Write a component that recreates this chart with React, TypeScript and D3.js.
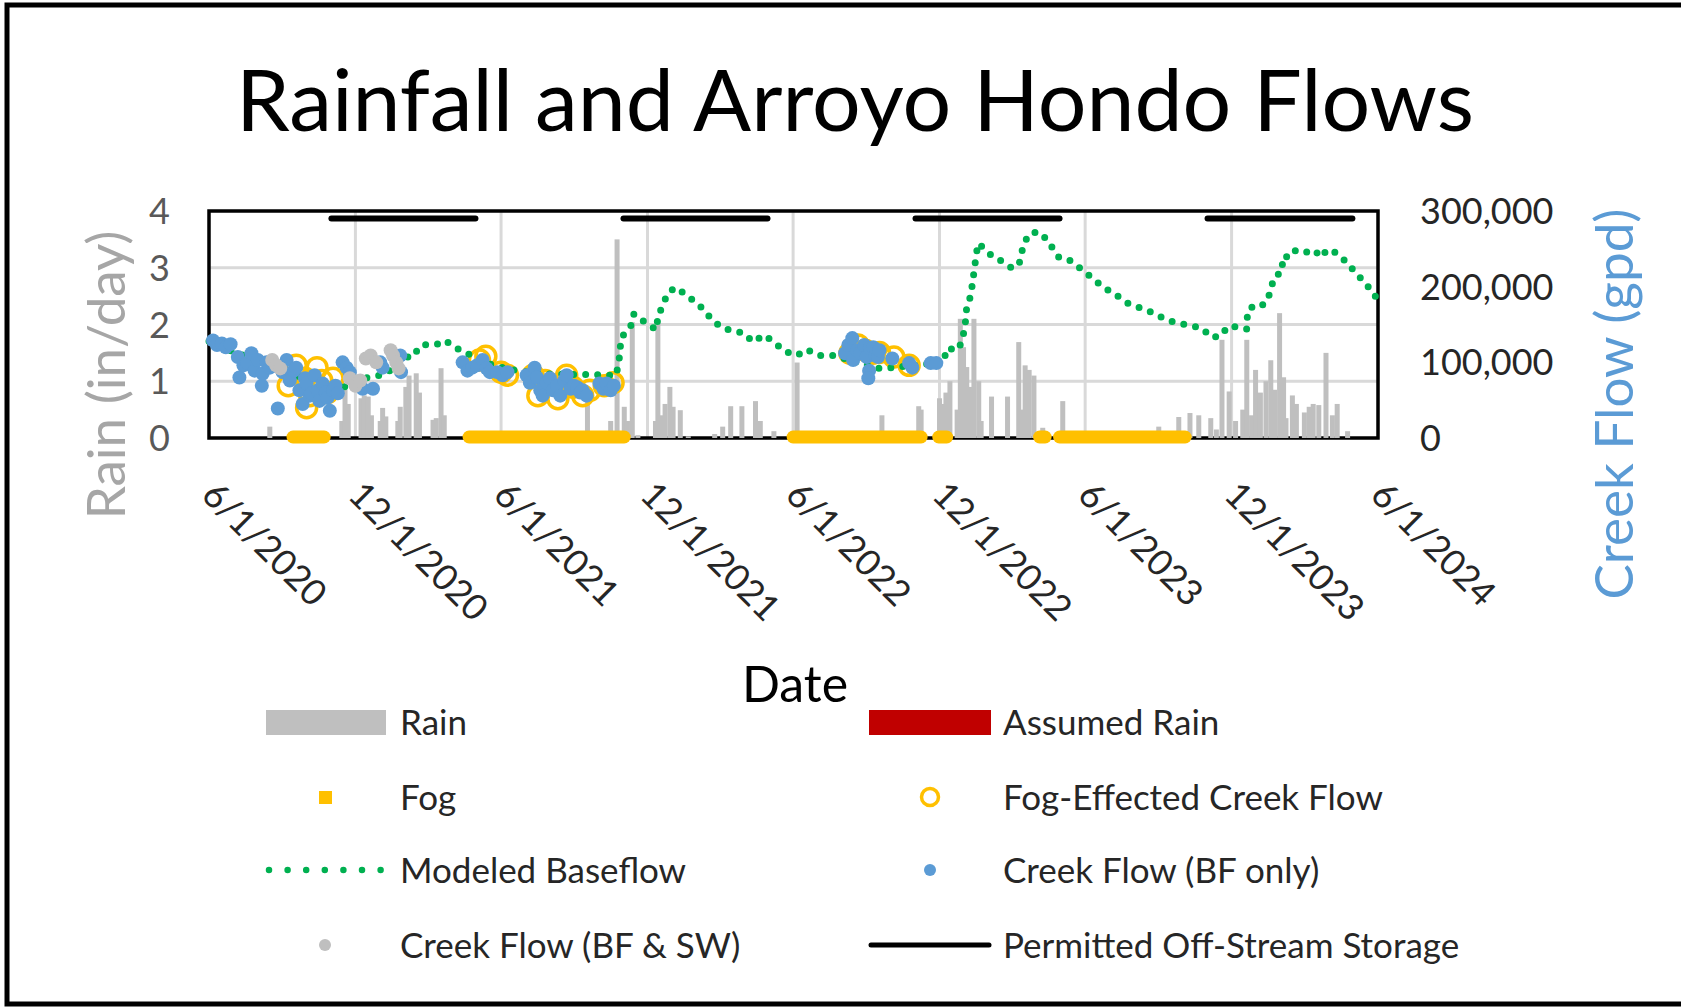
import React, { useRef, useEffect } from "react";
import * as d3 from "d3";

// daily rain, in/day (left axis)
const rain: [string, number][] = [
  ["2020-08-16", 0.2],
  ["2020-11-14", 0.3], ["2020-11-18", 0.85], ["2020-11-22", 0.6],
  ["2020-12-08", 0.7], ["2020-12-12", 0.75], ["2020-12-17", 0.73], ["2020-12-21", 0.4],
  ["2021-01-01", 0.3], ["2021-01-04", 0.53], ["2021-01-08", 0.38],
  ["2021-01-23", 0.3], ["2021-01-26", 0.55], ["2021-02-02", 0.9], ["2021-02-06", 1.1],
  ["2021-02-15", 1.14], ["2021-02-19", 0.8],
  ["2021-03-08", 0.32], ["2021-03-12", 0.35], ["2021-03-18", 1.23], ["2021-03-22", 0.4],
  ["2021-09-17", 0.75], ["2021-10-16", 0.3], ["2021-10-24", 3.5], ["2021-11-02", 0.55],
  ["2021-11-06", 0.3], ["2021-11-12", 2.04], ["2021-11-19", 0.05], ["2021-12-11", 0.3],
  ["2021-12-14", 2.04], ["2021-12-18", 0.4], ["2021-12-23", 0.6], ["2021-12-29", 0.9],
  ["2022-01-02", 0.55], ["2022-01-11", 0.49], ["2022-01-21", 0.03], ["2022-02-23", 0.07],
  ["2022-03-05", 0.2], ["2022-03-15", 0.56], ["2022-03-29", 0.56], ["2022-04-15", 0.65],
  ["2022-04-21", 0.3], ["2022-05-08", 0.12], ["2022-06-06", 1.33], ["2022-07-05", 0.04],
  ["2022-09-20", 0.4], ["2022-11-05", 0.56], ["2022-11-08", 0.5], ["2022-12-01", 0.7],
  ["2022-12-05", 0.6], ["2022-12-09", 0.8], ["2022-12-14", 1.0], ["2022-12-23", 0.5],
  ["2022-12-27", 2.1], ["2022-12-31", 1.6], ["2023-01-04", 1.25], ["2023-01-08", 0.9],
  ["2023-01-13", 2.1], ["2023-01-19", 1.0], ["2023-01-22", 0.3], ["2023-02-04", 0.73],
  ["2023-02-24", 0.73], ["2023-03-10", 1.69], ["2023-03-14", 0.5], ["2023-03-18", 1.28],
  ["2023-03-23", 1.2], ["2023-03-29", 1.1], ["2023-04-09", 0.18], ["2023-05-04", 0.65],
  ["2023-09-01", 0.2], ["2023-09-26", 0.37], ["2023-10-10", 0.44], ["2023-10-21", 0.4],
  ["2023-11-05", 0.35], ["2023-11-12", 0.15], ["2023-11-19", 1.73], ["2023-11-28", 0.82],
  ["2023-12-06", 0.3], ["2023-12-15", 0.5], ["2023-12-20", 1.73], ["2023-12-26", 0.4],
  ["2023-12-31", 1.2], ["2024-01-06", 0.8], ["2024-01-13", 1.0], ["2024-01-19", 1.37],
  ["2024-01-24", 0.85], ["2024-01-30", 2.2], ["2024-02-04", 1.07], ["2024-02-07", 0.35],
  ["2024-02-15", 0.75], ["2024-02-20", 0.6], ["2024-03-01", 0.45], ["2024-03-07", 0.55],
  ["2024-03-12", 0.6], ["2024-03-19", 0.58], ["2024-03-28", 1.5], ["2024-04-05", 0.4],
  ["2024-04-11", 0.6], ["2024-04-24", 0.12],
];

// no assumed rain in this period (legend only)
const assumedRain: [string, number][] = [];

// fog days, start/end
const fogPeriods: [string, string][] = [
  ["2020-09-14", "2020-10-23"],
  ["2021-04-22", "2021-11-02"],
  ["2022-06-01", "2022-11-08"],
  ["2022-11-30", "2022-12-10"],
  ["2023-04-05", "2023-04-12"],
  ["2023-04-30", "2023-10-04"],
];

// modeled baseflow, gpd (right axis)
const baseflow: [string, number][] = [
  ["2020-06-01", 128000], ["2020-06-24", 117000], ["2020-07-25", 105000], ["2020-08-25", 92000],
  ["2020-09-25", 80000], ["2020-10-25", 70000], ["2020-11-16", 67000], ["2020-12-16", 80000],
  ["2021-01-01", 83000], ["2021-01-11", 87000], ["2021-01-30", 107000], ["2021-02-11", 107000],
  ["2021-02-19", 121000], ["2021-03-01", 124000], ["2021-03-13", 124000], ["2021-03-23", 129000],
  ["2021-04-04", 120000], ["2021-04-19", 112000], ["2021-05-02", 105000], ["2021-05-22", 96000],
  ["2021-06-20", 89000], ["2021-07-20", 85000], ["2021-08-20", 84000], ["2021-09-19", 84000],
  ["2021-10-11", 83000], ["2021-10-23", 83000], ["2021-10-27", 107000], ["2021-10-29", 132000],
  ["2021-11-06", 143000], ["2021-11-12", 151000], ["2021-11-14", 164000], ["2021-11-28", 153000],
  ["2021-12-12", 143000], ["2021-12-14", 159000], ["2021-12-21", 179000], ["2021-12-28", 193000],
  ["2022-01-05", 199000], ["2022-01-20", 188000], ["2022-02-06", 173000], ["2022-02-16", 161000],
  ["2022-03-02", 147000], ["2022-03-18", 141000], ["2022-03-31", 139000], ["2022-04-12", 127000],
  ["2022-04-26", 136000], ["2022-05-10", 125000], ["2022-05-21", 115000], ["2022-06-06", 109000],
  ["2022-06-18", 117000], ["2022-07-04", 109000], ["2022-07-23", 109000], ["2022-08-20", 100000],
  ["2022-09-17", 92000], ["2022-10-03", 93000], ["2022-11-08", 97000], ["2022-11-24", 99000],
  ["2022-12-05", 99000], ["2022-12-11", 119000], ["2022-12-23", 116000], ["2022-12-29", 127000],
  ["2023-01-02", 149000], ["2023-01-04", 173000], ["2023-01-09", 188000], ["2023-01-12", 211000],
  ["2023-01-15", 235000], ["2023-01-18", 257000], ["2023-01-28", 249000], ["2023-02-04", 241000],
  ["2023-02-18", 233000], ["2023-03-01", 225000], ["2023-03-10", 228000], ["2023-03-15", 251000],
  ["2023-03-20", 264000], ["2023-03-27", 272000], ["2023-04-07", 271000], ["2023-04-18", 256000],
  ["2023-04-29", 239000], ["2023-05-11", 236000], ["2023-05-26", 224000], ["2023-06-08", 213000],
  ["2023-06-23", 200000], ["2023-07-11", 188000], ["2023-07-26", 177000], ["2023-08-12", 171000],
  ["2023-08-28", 164000], ["2023-09-09", 157000], ["2023-09-24", 152000], ["2023-10-13", 148000],
  ["2023-10-25", 145000], ["2023-11-06", 133000], ["2023-11-18", 135000], ["2023-11-26", 147000],
  ["2023-12-07", 147000], ["2023-12-20", 144000], ["2023-12-21", 168000], ["2023-12-31", 177000],
  ["2024-01-10", 176000], ["2024-01-18", 191000], ["2024-01-23", 213000], ["2024-02-02", 219000],
  ["2024-02-03", 240000], ["2024-02-13", 239000], ["2024-02-19", 248000], ["2024-03-02", 245000],
  ["2024-03-12", 249000], ["2024-03-23", 239000], ["2024-03-29", 249000], ["2024-04-09", 245000],
  ["2024-04-20", 235000], ["2024-05-03", 220000], ["2024-05-14", 207000], ["2024-05-27", 191000],
  ["2024-06-01", 180000],
];

// measured creek flow, baseflow only, gpd
const creekBF: [string, number][] = [
  ["2020-06-06", 129000], ["2020-06-11", 123000], ["2020-06-17", 125000], ["2020-06-22", 120000],
  ["2020-06-28", 124000], ["2020-07-07", 107000], ["2020-07-09", 80000], ["2020-07-14", 96000],
  ["2020-07-19", 99000], ["2020-07-24", 112000], ["2020-07-28", 89000], ["2020-08-01", 103000],
  ["2020-08-06", 69000], ["2020-08-07", 85000], ["2020-08-12", 100000], ["2020-08-16", 93000],
  ["2020-08-26", 39000], ["2020-09-01", 87000], ["2020-09-06", 103000], ["2020-09-10", 76000],
  ["2020-09-15", 89000], ["2020-09-18", 93000], ["2020-09-22", 63000], ["2020-09-26", 45000],
  ["2020-09-29", 79000], ["2020-10-01", 72000], ["2020-10-05", 56000], ["2020-10-07", 59000],
  ["2020-10-11", 83000], ["2020-10-15", 63000], ["2020-10-17", 49000], ["2020-10-21", 72000],
  ["2020-10-25", 60000], ["2020-10-27", 53000], ["2020-10-30", 36000], ["2020-11-03", 63000],
  ["2020-11-06", 69000], ["2020-11-09", 59000], ["2020-11-15", 100000], ["2020-11-20", 93000],
  ["2020-11-24", 87000], ["2020-12-10", 65000], ["2020-12-23", 65000], ["2021-01-01", 100000],
  ["2021-01-04", 93000], ["2021-01-26", 109000], ["2021-01-27", 87000],
  ["2021-04-14", 100000], ["2021-04-20", 89000], ["2021-04-26", 93000], ["2021-05-02", 96000],
  ["2021-05-09", 103000], ["2021-05-14", 92000], ["2021-05-18", 87000], ["2021-05-27", 87000],
  ["2021-06-03", 83000], ["2021-06-09", 87000],
  ["2021-07-03", 83000], ["2021-07-07", 73000], ["2021-07-13", 93000], ["2021-07-16", 80000],
  ["2021-07-20", 63000], ["2021-07-23", 56000], ["2021-07-28", 73000], ["2021-08-01", 79000],
  ["2021-08-05", 63000], ["2021-08-10", 69000], ["2021-08-14", 56000], ["2021-08-19", 76000],
  ["2021-08-22", 83000], ["2021-08-27", 65000], ["2021-08-31", 69000], ["2021-09-04", 67000],
  ["2021-09-08", 60000], ["2021-09-11", 63000], ["2021-09-16", 56000], ["2021-10-02", 72000],
  ["2021-10-07", 65000], ["2021-10-11", 72000], ["2021-10-16", 63000], ["2021-10-20", 69000],
  ["2022-08-05", 112000], ["2022-08-09", 123000], ["2022-08-14", 132000], ["2022-08-15", 103000],
  ["2022-08-20", 116000], ["2022-08-24", 112000], ["2022-08-29", 123000], ["2022-09-01", 107000],
  ["2022-09-05", 119000], ["2022-09-09", 120000], ["2022-09-12", 109000], ["2022-09-15", 107000],
  ["2022-09-04", 89000], ["2022-09-03", 79000], ["2022-09-17", 116000], ["2022-10-03", 105000],
  ["2022-10-24", 99000], ["2022-10-28", 93000], ["2022-11-20", 99000], ["2022-11-27", 99000],
];

// measured creek flow, baseflow + surface water, gpd
const creekBFSW: [string, number][] = [
  ["2020-08-19", 103000], ["2020-08-24", 96000], ["2020-08-29", 92000],
  ["2020-11-24", 79000], ["2020-12-01", 69000], ["2020-12-07", 76000],
  ["2020-12-14", 105000], ["2020-12-20", 109000], ["2020-12-27", 100000],
  ["2021-01-14", 116000], ["2021-01-17", 109000], ["2021-01-21", 100000], ["2021-01-24", 92000],
];

// creek flow readings affected by fog, gpd
const fogCreek: [string, number][] = [
  ["2020-09-08", 69000], ["2020-09-18", 96000], ["2020-09-29", 79000], ["2020-10-05", 56000],
  ["2020-10-01", 40000], ["2020-10-14", 93000], ["2020-10-20", 76000], ["2020-10-27", 60000],
  ["2020-11-03", 79000],
  ["2021-05-05", 103000], ["2021-05-13", 108000], ["2021-06-01", 87000], ["2021-06-09", 83000],
  ["2021-07-11", 83000], ["2021-07-17", 56000], ["2021-07-26", 76000], ["2021-08-11", 52000],
  ["2021-08-22", 83000], ["2021-08-30", 67000], ["2021-09-11", 56000], ["2021-09-20", 63000],
  ["2021-10-08", 69000], ["2021-10-19", 73000],
  ["2022-08-11", 112000], ["2022-08-21", 123000], ["2022-08-30", 116000], ["2022-09-09", 112000],
  ["2022-09-17", 113000], ["2022-10-05", 107000], ["2022-10-24", 96000],
];

// permitted off-stream storage seasons
const permitted: [string, string][] = [
  ["2020-11-01", "2021-04-30"],
  ["2021-11-01", "2022-04-30"],
  ["2022-11-01", "2023-04-30"],
  ["2023-11-01", "2024-04-30"],
];
const permittedLevel = 290000;

const dateTicks = [
  "2020-06-01", "2020-12-01", "2021-06-01", "2021-12-01", "2022-06-01",
  "2022-12-01", "2023-06-01", "2023-12-01", "2024-06-01",
];
const rainTicks = [0, 1, 2, 3, 4];
const flowTicks = [0, 100000, 200000, 300000];

const W = 1681;
const H = 1007;
const PLOT = { LEFT: 209, RIGHT: 1378, TOP: 211, BOTTOM: 438 };
const FONT = "Lato, 'Open Sans', sans-serif";

const ChartWrapper = () => {
  const ref = useRef<SVGSVGElement>(null);

  useEffect(() => {
    drawChart(ref.current);
  }, []);

  return (
    <svg
      ref={ref}
      width={W}
      height={H}
      style={{ position: "absolute", left: 0, top: 0, background: "#fff" }}
    />
  );
};

const drawChart = (element: SVGSVGElement | null) => {
  if (!element) return;
  const parse = d3.timeParse("%Y-%m-%d");
  const svg = d3.select(element);
  svg.selectAll("*").remove();

  const x = d3
    .scaleTime()
    .domain([parse("2020-06-01")!, parse("2024-06-01")!])
    .range([PLOT.LEFT, PLOT.RIGHT]);
  const yL = d3.scaleLinear().domain([0, 4]).range([PLOT.BOTTOM, PLOT.TOP]);
  const yR = d3.scaleLinear().domain([0, 300000]).range([PLOT.BOTTOM, PLOT.TOP]);
  const xd = (s: string) => x(parse(s)!);

  // outer frame
  svg.append("rect")
    .attr("x", 7).attr("y", 5).attr("width", W + 20).attr("height", H - 8)
    .attr("fill", "none").attr("stroke", "#000").attr("stroke-width", 5);

  // title
  svg.append("text")
    .attr("x", 855).attr("y", 131)
    .attr("text-anchor", "middle")
    .attr("font-family", FONT).attr("font-size", 86)
    .attr("fill", "#000")
    .text("Rainfall and Arroyo Hondo Flows");

  // gridlines
  const grid = svg.append("g").attr("stroke", "#D9D9D9").attr("stroke-width", 3);
  rainTicks.slice(1, -1).forEach(t => {
    grid.append("line")
      .attr("x1", PLOT.LEFT).attr("x2", PLOT.RIGHT)
      .attr("y1", yL(t)).attr("y2", yL(t));
  });
  dateTicks.slice(1, -1).forEach(t => {
    grid.append("line")
      .attr("x1", xd(t)).attr("x2", xd(t))
      .attr("y1", PLOT.TOP).attr("y2", PLOT.BOTTOM);
  });

  // plot border
  svg.append("rect")
    .attr("x", PLOT.LEFT).attr("y", PLOT.TOP)
    .attr("width", PLOT.RIGHT - PLOT.LEFT).attr("height", PLOT.BOTTOM - PLOT.TOP)
    .attr("fill", "none").attr("stroke", "#000").attr("stroke-width", 3.5);

  // rain bars
  svg.append("g").selectAll("rect").data(rain).enter().append("rect")
    .attr("x", d => xd(d[0]) - 2.5)
    .attr("width", 5)
    .attr("y", d => yL(d[1]))
    .attr("height", d => yL(0) - yL(d[1]))
    .attr("fill", "#BFBFBF");

  svg.append("g").selectAll("rect").data(assumedRain).enter().append("rect")
    .attr("x", d => xd(d[0]) - 2.5)
    .attr("width", 5)
    .attr("y", d => yL(d[1]))
    .attr("height", d => yL(0) - yL(d[1]))
    .attr("fill", "#C00000");

  // fog
  svg.append("g").selectAll("line").data(fogPeriods).enter().append("line")
    .attr("x1", d => xd(d[0])).attr("x2", d => xd(d[1]))
    .attr("y1", yL(0) - 1).attr("y2", yL(0) - 1)
    .attr("stroke", "#FFC000").attr("stroke-width", 13)
    .attr("stroke-linecap", "round");

  // fog-effected creek flow rings
  svg.append("g").selectAll("circle").data(fogCreek).enter().append("circle")
    .attr("cx", d => xd(d[0])).attr("cy", d => yR(d[1]))
    .attr("r", 10)
    .attr("fill", "none").attr("stroke", "#FFC000").attr("stroke-width", 3.5);

  // modeled baseflow
  const line = d3.line<[string, number]>()
    .x(d => xd(d[0]))
    .y(d => yR(d[1]));
  svg.append("path")
    .datum(baseflow)
    .attr("d", line)
    .attr("fill", "none")
    .attr("stroke", "#00B050")
    .attr("stroke-width", 7)
    .attr("stroke-linecap", "round")
    .attr("stroke-dasharray", "0 12");

  // creek flow dots
  svg.append("g").selectAll("circle").data(creekBF).enter().append("circle")
    .attr("cx", d => xd(d[0])).attr("cy", d => yR(d[1]))
    .attr("r", 7).attr("fill", "#5B9BD5");

  svg.append("g").selectAll("circle").data(creekBFSW).enter().append("circle")
    .attr("cx", d => xd(d[0])).attr("cy", d => yR(d[1]))
    .attr("r", 7).attr("fill", "#BFBFBF");

  // permitted off-stream storage
  svg.append("g").selectAll("line").data(permitted).enter().append("line")
    .attr("x1", d => xd(d[0])).attr("x2", d => xd(d[1]))
    .attr("y1", yR(permittedLevel)).attr("y2", yR(permittedLevel))
    .attr("stroke", "#000").attr("stroke-width", 6)
    .attr("stroke-linecap", "round");

  // left axis labels
  svg.append("g").selectAll("text").data(rainTicks).enter().append("text")
    .attr("x", 170).attr("y", d => yL(d) + 13)
    .attr("text-anchor", "end")
    .attr("font-family", FONT).attr("font-size", 36)
    .attr("fill", "#595959")
    .text(d => d);

  // right axis labels
  const fmt = d3.format(",");
  svg.append("g").selectAll("text").data(flowTicks).enter().append("text")
    .attr("x", 1420).attr("y", d => yR(d) + 13)
    .attr("font-family", FONT).attr("font-size", 36)
    .attr("fill", "#262626")
    .text(d => fmt(d));

  // date labels
  const dfmt = d3.timeFormat("%-m/%-d/%Y");
  svg.append("g").selectAll("text").data(dateTicks).enter().append("text")
    .attr("transform", d => `translate(${xd(d) - 9}, 497) rotate(45)`)
    .attr("font-family", FONT).attr("font-size", 36)
    .attr("fill", "#262626")
    .text(d => dfmt(parse(d)!));

  // axis titles
  svg.append("text")
    .attr("transform", "translate(104, 375) rotate(-90)")
    .attr("text-anchor", "middle").attr("dominant-baseline", "central")
    .attr("font-family", FONT).attr("font-size", 53)
    .attr("fill", "#A6A6A6")
    .text("Rain (in/day)");

  svg.append("text")
    .attr("transform", "translate(1612, 404) rotate(-90)")
    .attr("text-anchor", "middle").attr("dominant-baseline", "central")
    .attr("font-family", FONT).attr("font-size", 53)
    .attr("fill", "#5B9BD5")
    .text("Creek Flow (gpd)");

  svg.append("text")
    .attr("x", 795).attr("y", 702)
    .attr("text-anchor", "middle")
    .attr("font-family", FONT).attr("font-size", 50)
    .attr("fill", "#000")
    .text("Date");

  // legend
  const lg = svg.append("g");
  const rows = [722, 797, 870, 945];
  const col1 = 266;
  const col2 = 869;
  const text = (tx: number, ty: number, s: string) =>
    lg.append("text")
      .attr("x", tx).attr("y", ty + 13)
      .attr("font-family", FONT).attr("font-size", 35)
      .attr("fill", "#262626")
      .text(s);

  lg.append("rect").attr("x", col1).attr("y", rows[0] - 12).attr("width", 120).attr("height", 25).attr("fill", "#BFBFBF");
  text(400, rows[0], "Rain");
  lg.append("rect").attr("x", col2).attr("y", rows[0] - 12).attr("width", 122).attr("height", 25).attr("fill", "#C00000");
  text(1003, rows[0], "Assumed Rain");

  lg.append("rect").attr("x", 319).attr("y", rows[1] - 6).attr("width", 13).attr("height", 13).attr("fill", "#FFC000");
  text(400, rows[1], "Fog");
  lg.append("circle").attr("cx", 930).attr("cy", rows[1]).attr("r", 8.5)
    .attr("fill", "none").attr("stroke", "#FFC000").attr("stroke-width", 3.5);
  text(1003, rows[1], "Fog-Effected Creek Flow");

  lg.append("line").attr("x1", 269).attr("x2", 382).attr("y1", rows[2]).attr("y2", rows[2])
    .attr("stroke", "#00B050").attr("stroke-width", 6.5)
    .attr("stroke-linecap", "round").attr("stroke-dasharray", "0 18.6");
  text(400, rows[2], "Modeled Baseflow");
  lg.append("circle").attr("cx", 930).attr("cy", rows[2]).attr("r", 6).attr("fill", "#5B9BD5");
  text(1003, rows[2], "Creek Flow (BF only)");

  lg.append("circle").attr("cx", 325).attr("cy", rows[3]).attr("r", 6).attr("fill", "#BFBFBF");
  text(400, rows[3], "Creek Flow (BF & SW)");
  lg.append("line").attr("x1", 871).attr("x2", 989).attr("y1", rows[3]).attr("y2", rows[3])
    .attr("stroke", "#000").attr("stroke-width", 5).attr("stroke-linecap", "round");
  text(1003, rows[3], "Permitted Off-Stream Storage");
};

export default ChartWrapper;
